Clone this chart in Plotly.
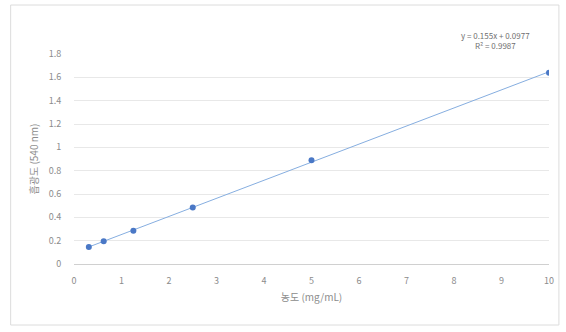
import plotly.graph_objects as go

conc = [0.3125, 0.625, 1.25, 2.5, 5, 10]
absorb = [0.145, 0.196, 0.285, 0.485, 0.89, 1.64]
slope = 0.155
intercept = 0.0977
r2 = 0.9987
x_ticks = [0, 1, 2, 3, 4, 5, 6, 7, 8, 9, 10]
y_ticks = [0, 0.2, 0.4, 0.6, 0.8, 1, 1.2, 1.4, 1.6, 1.8]
y_ticktext = ["0", "0.2", "0.4", "0.6", "0.8", "1", "1.2", "1.4", "1.6", "1.8"]

trend_x = [conc[0], conc[-1]]
trend_y = [slope * v + intercept for v in trend_x]

font = "Noto Sans CJK KR, Noto Sans, sans-serif"
gray = "#8c8c8c"

fig = go.Figure()
fig.add_trace(go.Scatter(x=trend_x, y=trend_y, mode="lines",
                         line=dict(color="#86aee0", width=1), hoverinfo="skip",
                         showlegend=False))
fig.add_trace(go.Scatter(x=conc, y=absorb, mode="markers",
                         marker=dict(color="#4a78c6", size=6), showlegend=False))

fig.update_layout(
    width=566, height=332,
    margin=dict(l=74, r=12, t=54, b=68),
    paper_bgcolor="white", plot_bgcolor="white",
    font=dict(family=font, size=9, color=gray),
    xaxis=dict(range=[0, 10], tickvals=x_ticks, showgrid=False, zeroline=False,
               showline=False, ticks="outside", ticklen=8, tickcolor="rgba(0,0,0,0)",
               tickfont=dict(size=9, color=gray),
               title=dict(text="농도 (mg/mL)", font=dict(size=10, color=gray), standoff=8)),
    yaxis=dict(range=[0, 1.8], tickvals=y_ticks, ticktext=y_ticktext,
               showgrid=True, gridcolor="#e8e8e8", gridwidth=1, zeroline=True,
               zerolinecolor="#d0d0d0", zerolinewidth=1, showline=False,
               ticks="outside", ticklen=10, tickcolor="rgba(0,0,0,0)",
               tickfont=dict(size=9, color=gray),
               title=dict(text="흡광도 (540 nm)", font=dict(size=10, color=gray), standoff=8)),
    shapes=[dict(type="rect", xref="paper", yref="paper",
                 x0=-64/480, x1=1+10/480, y0=-61/210, y1=1+49/210,
                 line=dict(color="#dcdcdc", width=1))],
    annotations=[dict(xref="paper", yref="paper", x=(500-74)/480, y=(264-53)/210,
                      text=f"y = {slope}x + {intercept}<br>R² = {r2}",
                      showarrow=False, align="center", xanchor="center", yanchor="bottom",
                      font=dict(size=8, color="#707070"))],
)

fig.write_html("out.html", config={"displayModeBar": False},
               post_script="document.body.style.margin='0';")
